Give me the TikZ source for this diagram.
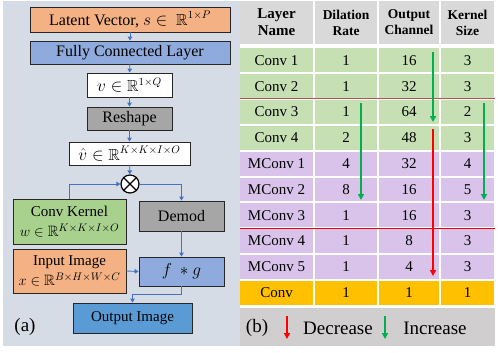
\documentclass[tikz,border=0pt]{standalone}
\usepackage{fontspec}
\setmainfont{Liberation Serif}
\usepackage{amssymb}
\usetikzlibrary{arrows.meta}
\definecolor{leftbg}{HTML}{D6DCE5}
\definecolor{orangebox}{HTML}{F4B183}
\definecolor{bluebox}{HTML}{8FAADC}
\definecolor{graybox}{HTML}{A6A6A6}
\definecolor{greenbox}{HTML}{A9D18E}
\definecolor{outbox}{HTML}{5B9BD5}
\definecolor{arrblue}{HTML}{4472C4}
\definecolor{hdr}{HTML}{D9D9D9}
\definecolor{grrow}{HTML}{C6E0B4}
\definecolor{purow}{HTML}{D9C3EB}
\definecolor{orrow}{HTML}{FFC000}
\definecolor{leggray}{HTML}{D0CECE}
\definecolor{incgreen}{HTML}{00B050}
\definecolor{decred}{HTML}{FF0000}
\definecolor{darkred}{HTML}{C0504D}
\tikzset{
  box/.style={draw=black!85, line width=0.8pt, inner sep=0pt, align=center, font=\fontsize{16}{18}\selectfont},
  barr/.style={draw=arrblue, line width=0.9pt, -{Triangle[length=4pt,width=4.5pt]}},
  cell/.style={inner sep=0pt, align=center, font=\fontsize{15}{17}\selectfont},
  garr/.style={draw=incgreen, line width=1.5pt, -{Triangle[length=6pt,width=6pt]}},
  rarr/.style={draw=decred, line width=1.5pt, -{Triangle[length=6pt,width=6pt]}},
}
\begin{document}
\begin{tikzpicture}[x=1pt,y=-1pt]
\useasboundingbox (0,0) rectangle (498,353);
% left panel background
\fill[leftbg] (3,1) rectangle (240,346);
% left flow
\node[box, fill=orangebox, minimum width=200, minimum height=25] (lat) at (130,19.5) {Latent Vector, $s\in\ \mathbb{R}^{1\times P}$};
\node[box, fill=bluebox, minimum width=200, minimum height=23] (fc) at (130,52.5) {Fully Connected Layer};
\node[box, fill=white, minimum width=85, minimum height=24] (v) at (129.5,85) {$v\in\mathbb{R}^{1\times Q}$};
\node[box, fill=graybox, minimum width=85, minimum height=23] (rs) at (129.5,118.5) {Reshape};
\node[box, fill=white, minimum width=121, minimum height=23] (vh) at (129.5,153.5) {$\hat{v}\in\mathbb{R}^{K\times K\times I\times O}$};
\node[draw=black, line width=1.2pt, circle, fill=white, minimum size=18pt, inner sep=0pt] (ot) at (130,184) {};
\draw[line width=1.2pt] (ot.north west) -- (ot.south east) (ot.north east) -- (ot.south west);
\node[box, fill=greenbox, minimum width=113, minimum height=45, font=\fontsize{15}{20}\selectfont] (ck) at (69.5,221.5) {Conv Kernel\\$w\in\mathbb{R}^{K\times K\times I\times O}$};
\node[box, fill=graybox, minimum width=85, minimum height=30] (dm) at (181.5,216) {Demod};
\node[box, fill=orangebox, minimum width=113, minimum height=44, font=\fontsize{15}{20}\selectfont] (in) at (69.5,271) {Input Image\\$x\in\mathbb{R}^{B\times H\times W\times C}$};
\node[box, fill=bluebox, minimum width=85, minimum height=29] (fg) at (181.5,271.5) {$f\ \ast g$};
\node[box, fill=outbox, minimum width=119, minimum height=30, font=\fontsize{15}{17}\selectfont] (out) at (132.5,318) {Output Image};
\node[font=\fontsize{19}{21}\selectfont] (la) at (25,327) {(a)};
\draw[barr] (lat) -- (fc);
\draw[barr] (fc) -- (v);
\draw[barr] (v) -- (rs);
\draw[barr] (rs) -- (vh);
\draw[barr] (vh) -- (ot);
\draw[barr] (ck.north) |- (ot.west);
\draw[barr] (ot.east) -| (dm.north);
\draw[barr] (dm.south) -- (fg.north);
\draw[barr] (in.east) -- (fg.west);
\draw[barr] (fg.south) -- ++(0,8) -| (out.north);
% table header
\node[cell, fill=hdr, minimum width=73, minimum height=43, font=\bfseries\fontsize{15}{17}\selectfont] (h1) at (276.5,22.5) {Layer\\Name};
\node[cell, fill=hdr, minimum width=62, minimum height=43, font=\bfseries\fontsize{13.5}{16}\selectfont] (h2) at (346,22.5) {Dilation\\Rate};
\node[cell, fill=hdr, minimum width=60, minimum height=43, font=\bfseries\fontsize{13.5}{16}\selectfont] (h3) at (409,22.5) {Output\\Channel};
\node[cell, fill=hdr, minimum width=53, minimum height=43, font=\bfseries\fontsize{13.5}{16}\selectfont] (h4) at (467.5,22.5) {Kernel\\Size};
% table rows
\foreach \i/\a/\b/\c/\d/\col in {1/Conv 1/1/16/3/grrow, 2/Conv 2/1/32/3/grrow, 3/Conv 3/1/64/2/grrow, 4/Conv 4/2/48/3/grrow, 5/MConv 1/4/32/4/purow, 6/MConv 2/8/16/5/purow, 7/MConv 3/1/16/3/purow, 8/MConv 4/1/8/3/purow, 9/MConv 5/1/4/3/purow, 10/Conv/1/1/1/orrow}{
  \pgfmathsetmacro{\yc}{47.5+25.8*(\i-1)+12.9}
  \node[cell, fill=\col, minimum width=73, minimum height=23.8] (r\i c1) at (276.5,\yc) {\a};
  \node[cell, fill=\col, minimum width=62, minimum height=23.8] (r\i c2) at (346,\yc) {\b};
  \node[cell, fill=\col, minimum width=60, minimum height=23.8] (r\i c3) at (409,\yc) {\c};
  \node[cell, fill=\col, minimum width=53, minimum height=23.8] (r\i c4) at (467.5,\yc) {\d};
}
% separator lines
\coordinate (s1a) at (240,98.7); \coordinate (s1b) at (495,98.7);
\coordinate (s2a) at (240,228.2); \coordinate (s2b) at (495,228.2);
\draw[darkred, line width=1.3pt] (s1a) -- (s1b);
\draw[decred!90!black, line width=1pt] (s2a) -- (s2b);
% trend arrows
\coordinate (g1a) at (433,52); \coordinate (g1b) at (433,122);
\coordinate (g2a) at (361,103); \coordinate (g2b) at (361,200);
\coordinate (g3a) at (484,103); \coordinate (g3b) at (484,200);
\coordinate (r1a) at (433,129); \coordinate (r1b) at (433,276);
\draw[garr] (g1a) -- (g1b);
\draw[garr] (g2a) -- (g2b);
\draw[garr] (g3a) -- (g3b);
\draw[rarr] (r1a) -- (r1b);
% legend
\node[fill=leggray, minimum width=255, minimum height=38, inner sep=0pt] (leg) at (367.5,327) {};
\node[font=\fontsize{19}{21}\selectfont] (lb) at (257,328) {(b)};
\coordinate (lra) at (287,316); \coordinate (lrb) at (287,339);
\coordinate (lga) at (385,316); \coordinate (lgb) at (385,339);
\draw[rarr] (lra) -- (lrb);
\draw[garr] (lga) -- (lgb);
\node[font=\fontsize{19}{21}\selectfont] (ld) at (338,328) {Decrease};
\node[font=\fontsize{19}{21}\selectfont] (li) at (435,328) {Increase};
\end{tikzpicture}
\end{document}
